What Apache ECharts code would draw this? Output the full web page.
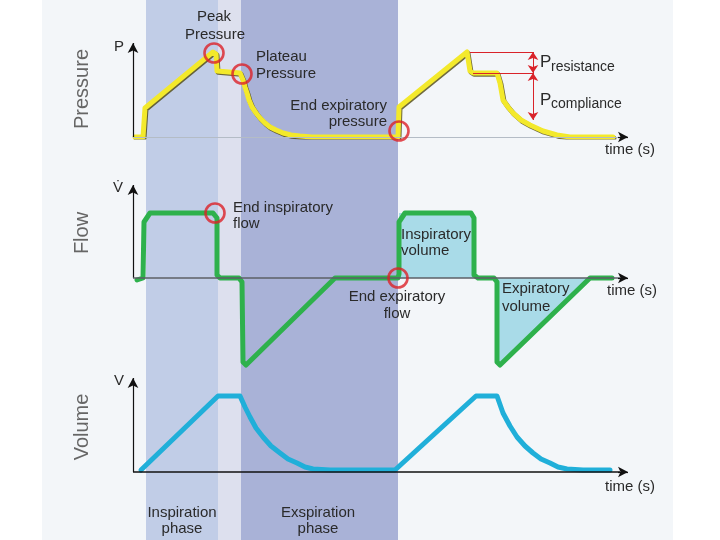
<!DOCTYPE html>
<html>
<head>
<meta charset="utf-8">
<script src="https://cdn.jsdelivr.net/npm/echarts@6/dist/echarts.min.js"></script>
<style>
  html, body { margin: 0; padding: 0; background: #fff; }
  #chart { width: 720px; height: 540px; }
</style>
</head>
<body>
<div id="chart"></div>
<script>
  // time in s, values in arbitrary units
  var pressureCurve = [
    [0.04, 0], [0.2, 0], [0.24, 2.9], [1.6, 8.5], [1.66, 8.3], [1.68, 6.6], [1.72, 6.4],
    [2.14, 6.4], [2.2, 5.7], [2.24, 5.0], [2.28, 4.4], [2.32, 3.7], [2.38, 3.0], [2.46, 2.4],
    [2.54, 1.9], [2.64, 1.4], [2.74, 1.0], [2.86, 0.7], [3.0, 0.4], [3.16, 0.2], [3.34, 0.1],
    [3.58, 0], [5.3, 0],
    [5.32, 3.0], [6.68, 8.5], [6.72, 8.3], [6.74, 6.6], [6.8, 6.4], [7.28, 6.4], [7.34, 5.4],
    [7.4, 3.7], [7.5, 3.0], [7.6, 2.4], [7.76, 1.7], [7.94, 1.2], [8.2, 0.6], [8.48, 0.2],
    [8.74, 0], [9.6, 0]
  ];
  var flowCurve = [
    [0.08, -0.2], [0.2, 0], [0.22, 5.6], [0.34, 6.5], [1.6, 6.5], [1.68, 6.0], [1.68, 0.3],
    [1.74, 0], [2.12, 0], [2.18, -0.4], [2.2, -8.4], [2.26, -8.7], [4.04, 0], [5.3, 0],
    [5.32, 0.4], [5.32, 5.6], [5.44, 6.5], [6.76, 6.5], [6.82, 6.0], [6.82, 0.3], [6.9, 0],
    [7.22, 0], [7.28, -0.4], [7.28, -8.4], [7.34, -8.7], [9.14, 0], [9.58, 0]
  ];
  var inspiratoryFill = [[5.32, 0], [5.32, 6.5], [6.8, 6.5], [6.8, 0]];
  var expiratoryFill = [[7.28, 0], [7.28, -8.7], [9.14, 0]];
  var volumeCurve = [
    [0.16, 0.2], [1.7, 7.6], [2.14, 7.6], [2.24, 6.5], [2.34, 5.5], [2.46, 4.4], [2.6, 3.5],
    [2.76, 2.6], [2.94, 1.9], [3.1, 1.3], [3.28, 0.9], [3.44, 0.5], [3.6, 0.3], [3.94, 0.2],
    [5.24, 0.2],
    [6.86, 7.6], [7.28, 7.6], [7.4, 5.9], [7.54, 4.6], [7.68, 3.5], [7.84, 2.6], [8.0, 1.9],
    [8.16, 1.3], [8.34, 0.9], [8.5, 0.5], [8.68, 0.3], [9.0, 0.2], [9.54, 0.2]
  ];

  // phases (s)
  var panelSpan = [-1.82, 10.8];
  var inspirationPhase = [0.26, 1.7];
  var pausePhase = [1.7, 2.16];
  var expirationPhase = [2.16, 5.3];

  // annotation points
  var pressureMarks = [[1.62, 8.4], [2.18, 6.3], [5.32, 0.6]];
  var flowMarks = [[1.64, 6.5], [5.3, 0]];
  var peakLevel = 8.5;
  var plateauLevel = 6.4;
  var complianceEnd = 1.7;
  var refTime = [6.74, 8.0];

  var FONT = '"Liberation Sans", Arial, sans-serif';
  var TXT = '#2a2a2a';

  function axisLines(yTop, baseColor, baseWidth) {
    return {
      silent: true,
      animation: false,
      symbol: ['none', 'arrow'],
      symbolSize: [8, 10],
      label: { show: false },
      lineStyle: { color: '#111', width: 1.2, type: 'solid' },
      data: [
        [{ coord: [0, 0] }, { coord: [0, yTop] }],
        [{ coord: [0, 0], symbol: 'none', lineStyle: { color: baseColor, width: baseWidth } },
         { coord: [9.74, 0], symbol: 'none' }],
        [{ coord: [9.7, 0] }, { coord: [9.9, 0] }]
      ]
    };
  }

  function helper(grid, yTop, baseColor, baseWidth) {
    return {
      type: 'line', xAxisIndex: grid, yAxisIndex: grid, data: [], silent: true,
      markLine: axisLines(yTop, baseColor, baseWidth)
    };
  }

  function circles(grid, pts) {
    return {
      type: 'scatter', xAxisIndex: grid, yAxisIndex: grid, data: pts, silent: true, z: 5,
      symbol: 'circle', symbolSize: 19,
      itemStyle: { color: 'rgba(0,0,0,0)', borderColor: '#dc2228', borderWidth: 2.6 }
    };
  }

  function text(str, x, y, opt) {
    opt = opt || {};
    return {
      type: 'text', x: x, y: y, rotation: opt.rotation || 0, z: 100,
      style: {
        text: str, fill: opt.color || TXT, fontSize: opt.size || 15, fontFamily: FONT,
        align: opt.align || 'left', verticalAlign: 'middle'
      }
    };
  }

  function band(span, color) {
    return [{ xAxis: span[0], itemStyle: { color: color } }, { xAxis: span[1] }];
  }

  var chart = echarts.init(document.getElementById('chart'), null, { renderer: 'canvas' });

  var gridBox = { left: 133, width: 495 };
  var xBase = { type: 'value', min: 0, max: 9.9, show: false };

  chart.setOption({
    animation: false,
    backgroundColor: '#ffffff',
    grid: [
      { left: 0, top: 0, width: 720, height: 540 },
      { left: gridBox.left, width: gridBox.width, top: 43, height: 94 },
      { left: gridBox.left, width: gridBox.width, top: 185, height: 183 },
      { left: gridBox.left, width: gridBox.width, top: 378, height: 94 }
    ],
    xAxis: [
      { type: 'value', gridIndex: 0, min: -2.66, max: 11.74, show: false },
      Object.assign({ gridIndex: 1 }, xBase),
      Object.assign({ gridIndex: 2 }, xBase),
      Object.assign({ gridIndex: 3 }, xBase)
    ],
    yAxis: [
      { type: 'value', gridIndex: 0, min: 0, max: 1, show: false },
      { type: 'value', gridIndex: 1, min: 0, max: 9.4, show: false },
      { type: 'value', gridIndex: 2, min: -9, max: 9.3, show: false },
      { type: 'value', gridIndex: 3, min: 0, max: 9.4, show: false }
    ],
    series: [
      {
        type: 'line', xAxisIndex: 0, yAxisIndex: 0, data: [], silent: true, z: 0,
        markArea: {
          silent: true,
          data: [
            band(panelSpan, '#f3f6f9'),
            band(inspirationPhase, '#c1cde7'),
            band(pausePhase, '#dde0ee'),
            band(expirationPhase, '#a9b2d7')
          ]
        }
      },
      helper(1, 9.4, '#b4bcc6', 1),
      helper(2, 9.3, '#5c5f66', 1.5),
      helper(3, 9.4, '#111111', 1.5),
      {
        type: 'line', xAxisIndex: 1, yAxisIndex: 1, data: [], silent: true,
        markLine: {
          silent: true, animation: false, symbol: ['none', 'none'], label: { show: false },
          lineStyle: { color: '#d9232a', width: 1, type: 'solid' },
          data: [
            [{ coord: [refTime[0], peakLevel] }, { coord: [refTime[1], peakLevel] }],
            [{ coord: [refTime[0] + 0.06, plateauLevel] }, { coord: [refTime[1], plateauLevel] }],
            [{ coord: [refTime[1], peakLevel], symbol: 'arrow', symbolSize: [8, 8] },
             { coord: [refTime[1], plateauLevel], symbol: 'arrow', symbolSize: [8, 8] }],
            [{ coord: [refTime[1], plateauLevel], symbol: 'arrow', symbolSize: [8, 8] },
             { coord: [refTime[1], complianceEnd], symbol: 'arrow', symbolSize: [8, 8] }]
          ]
        }
      },
      {
        name: 'Pressure', type: 'line', xAxisIndex: 1, yAxisIndex: 1, data: pressureCurve,
        symbol: 'none', z: 3,
        lineStyle: {
          color: '#f3e92b', width: 5, cap: 'round', join: 'round',
          shadowColor: 'rgba(70,62,0,0.75)', shadowBlur: 0, shadowOffsetX: 1, shadowOffsetY: 1.2
        }
      },
      {
        type: 'line', xAxisIndex: 2, yAxisIndex: 2, data: inspiratoryFill, symbol: 'none', z: 2,
        lineStyle: { width: 0, opacity: 0 }, areaStyle: { color: '#a9dbe8', opacity: 1 }
      },
      {
        type: 'line', xAxisIndex: 2, yAxisIndex: 2, data: expiratoryFill, symbol: 'none', z: 2,
        lineStyle: { width: 0, opacity: 0 }, areaStyle: { color: '#a9dbe8', opacity: 1 }
      },
      {
        name: 'Flow', type: 'line', xAxisIndex: 2, yAxisIndex: 2, data: flowCurve,
        symbol: 'none', z: 3,
        lineStyle: { color: '#2eb14c', width: 5, cap: 'round', join: 'round' }
      },
      {
        name: 'Volume', type: 'line', xAxisIndex: 3, yAxisIndex: 3, data: volumeCurve,
        symbol: 'none', z: 3,
        lineStyle: { color: '#20afd9', width: 5, cap: 'round', join: 'round' }
      },
      circles(1, pressureMarks),
      circles(2, flowMarks)
    ],
    graphic: [
      text('Pressure', 82, 89, { rotation: Math.PI / 2, size: 20, color: '#666', align: 'center' }),
      text('Flow', 82, 233, { rotation: Math.PI / 2, size: 20, color: '#666', align: 'center' }),
      text('Volume', 82, 427, { rotation: Math.PI / 2, size: 20, color: '#666', align: 'center' }),
      text('P', 119, 47, { align: 'center' }),
      text('V\u0307', 118, 188, { align: 'center' }),
      text('V', 119, 381, { align: 'center' }),

      text('Peak', 214, 17, { align: 'center' }),
      text('Pressure', 215, 35, { align: 'center' }),
      text('Plateau', 256, 57),
      text('Pressure', 256, 74),
      text('End expiratory', 387, 106, { align: 'right' }),
      text('pressure', 387, 122, { align: 'right' }),
      text('P', 540, 62, { size: 17 }),
      text('resistance', 551, 67, { size: 14 }),
      text('P', 540, 100, { size: 17 }),
      text('compliance', 551, 104, { size: 14 }),
      text('time (s)', 605, 150),

      text('End inspiratory', 233, 208),
      text('flow', 233, 224),
      text('Inspiratory', 401, 235),
      text('volume', 401, 251),
      text('End expiratory', 397, 297, { align: 'center' }),
      text('flow', 397, 314, { align: 'center' }),
      text('Expiratory', 502, 289),
      text('volume', 502, 307),
      text('time (s)', 607, 291),

      text('time (s)', 605, 487),
      text('Inspiration', 182, 513, { align: 'center' }),
      text('phase', 182, 529, { align: 'center' }),
      text('Exspiration', 318, 513, { align: 'center' }),
      text('phase', 318, 529, { align: 'center' })
    ]
  });
</script>
</body>
</html>
